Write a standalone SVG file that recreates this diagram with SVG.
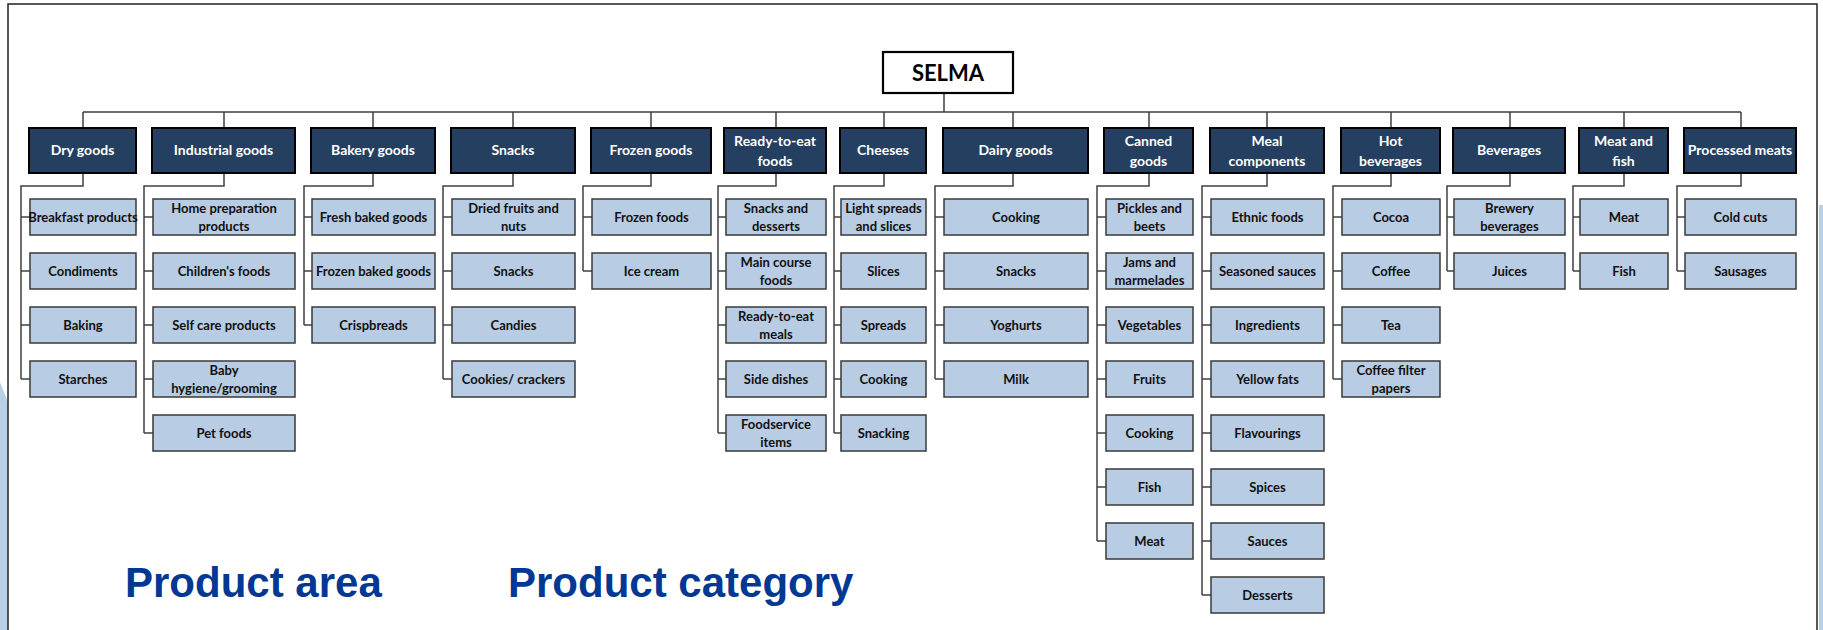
<svg xmlns="http://www.w3.org/2000/svg" width="1823" height="630" viewBox="0 0 1823 630">
<style>
.cat rect{fill:#243F60;stroke:#000;stroke-width:2}
.cat text{fill:#fff;font-family:Lato,"Liberation Sans",sans-serif;font-weight:700;font-size:14px;text-anchor:middle}
.sub rect{fill:#B8CCE4;stroke:#3A3A3A;stroke-width:1.5}
.sub text{fill:#111;font-family:Lato,"Liberation Sans",sans-serif;font-weight:700;font-size:13px;text-anchor:middle}
.root rect{fill:#fff;stroke:#000;stroke-width:2.2}
.root text{fill:#000;font-family:Lato,"Liberation Sans",sans-serif;font-weight:700;font-size:22px;text-anchor:middle}
#connectors path{fill:none;stroke:#404040;stroke-width:1.5}
.lbl{fill:#003893;font-family:"Liberation Sans",Arial,sans-serif;font-weight:700;font-size:42px}
</style>
<rect width="1823" height="630" fill="#fff"/>
<polygon points="0,382 8,402 8,630 0,630" fill="#B8D0E8"/>
<rect x="1819" y="205" width="4" height="425" fill="#B8D0E8"/>
<path d="M8,630 V4 H1817 V630" fill="none" stroke="#222" stroke-width="1.5"/>

<g id="connectors">
<path d="M944,93V112 M83,112H1741 M83,112V128 M224,112V128 M373,112V128 M513,112V128 M651,112V128 M776,112V128 M884,112V128 M1013,112V128 M1149,112V128 M1267,112V128 M1391,112V128 M1510,112V128 M1624,112V128 M1741,112V128"/>
<path d="M83,173V186H21V379 M21,217H30 M21,271H30 M21,325H30 M21,379H30"/>
<path d="M224,173V186H144V433 M144,217H153 M144,271H153 M144,325H153 M144,379H153 M144,433H153"/>
<path d="M373,173V186H304V325 M304,217H312 M304,271H312 M304,325H312"/>
<path d="M513,173V186H443V379 M443,217H452 M443,271H452 M443,325H452 M443,379H452"/>
<path d="M651,173V186H583V271 M583,217H592 M583,271H592"/>
<path d="M776,173V186H718V433 M718,217H726 M718,271H726 M718,325H726 M718,379H726 M718,433H726"/>
<path d="M884,173V186H834V433 M834,217H841 M834,271H841 M834,325H841 M834,379H841 M834,433H841"/>
<path d="M1013,173V186H935V379 M935,217H944 M935,271H944 M935,325H944 M935,379H944"/>
<path d="M1149,173V186H1097V541 M1097,217H1106 M1097,271H1106 M1097,325H1106 M1097,379H1106 M1097,433H1106 M1097,487H1106 M1097,541H1106"/>
<path d="M1267,173V186H1202V595 M1202,217H1211 M1202,271H1211 M1202,325H1211 M1202,379H1211 M1202,433H1211 M1202,487H1211 M1202,541H1211 M1202,595H1211"/>
<path d="M1391,173V186H1333V379 M1333,217H1342 M1333,271H1342 M1333,325H1342 M1333,379H1342"/>
<path d="M1510,173V186H1447V271 M1447,217H1454 M1447,271H1454"/>
<path d="M1624,173V186H1573V271 M1573,217H1580 M1573,271H1580"/>
<path d="M1741,173V186H1677V271 M1677,217H1685 M1677,271H1685"/>
</g>

<g id="selma" class="root"><rect x="883" y="52" width="130" height="41"/><text x="948" y="81">SELMA</text></g>

<g id="cat-dry-goods" class="cat"><rect x="29" y="128" width="107" height="45"/><text x="82.5" y="155">Dry goods</text></g>
<g id="cat-industrial-goods" class="cat"><rect x="152" y="128" width="143" height="45"/><text x="223.5" y="155">Industrial goods</text></g>
<g id="cat-bakery-goods" class="cat"><rect x="311" y="128" width="124" height="45"/><text x="373" y="155">Bakery goods</text></g>
<g id="cat-snacks" class="cat"><rect x="451" y="128" width="124" height="45"/><text x="513" y="155">Snacks</text></g>
<g id="cat-frozen-goods" class="cat"><rect x="591" y="128" width="120" height="45"/><text x="651" y="155">Frozen goods</text></g>
<g id="cat-ready-to-eat" class="cat"><rect x="724" y="128" width="102" height="45"/><text x="775" y="146">Ready-to-eat</text><text x="775" y="166">foods</text></g>
<g id="cat-cheeses" class="cat"><rect x="840" y="128" width="86" height="45"/><text x="883" y="155">Cheeses</text></g>
<g id="cat-dairy-goods" class="cat"><rect x="943" y="128" width="145" height="45"/><text x="1015.5" y="155">Dairy goods</text></g>
<g id="cat-canned-goods" class="cat"><rect x="1104" y="128" width="89" height="45"/><text x="1148.5" y="146">Canned</text><text x="1148.5" y="166">goods</text></g>
<g id="cat-meal-components" class="cat"><rect x="1210" y="128" width="114" height="45"/><text x="1267" y="146">Meal</text><text x="1267" y="166">components</text></g>
<g id="cat-hot-beverages" class="cat"><rect x="1341" y="128" width="99" height="45"/><text x="1390.5" y="146">Hot</text><text x="1390.5" y="166">beverages</text></g>
<g id="cat-beverages" class="cat"><rect x="1453" y="128" width="112" height="45"/><text x="1509" y="155">Beverages</text></g>
<g id="cat-meat-and-fish" class="cat"><rect x="1579" y="128" width="89" height="45"/><text x="1623.5" y="146">Meat and</text><text x="1623.5" y="166">fish</text></g>
<g id="cat-processed-meats" class="cat"><rect x="1684" y="128" width="112" height="45"/><text x="1740" y="155">Processed meats</text></g>

<!-- Dry goods -->
<g id="dry-1" class="sub"><rect x="30" y="199" width="106" height="36"/><text x="83" y="222">Breakfast products</text></g>
<g id="dry-2" class="sub"><rect x="30" y="253" width="106" height="36"/><text x="83" y="276">Condiments</text></g>
<g id="dry-3" class="sub"><rect x="30" y="307" width="106" height="36"/><text x="83" y="330">Baking</text></g>
<g id="dry-4" class="sub"><rect x="30" y="361" width="106" height="36"/><text x="83" y="384">Starches</text></g>
<!-- Industrial -->
<g id="ind-1" class="sub"><rect x="153" y="199" width="142" height="36"/><text x="224" y="213">Home preparation</text><text x="224" y="231">products</text></g>
<g id="ind-2" class="sub"><rect x="153" y="253" width="142" height="36"/><text x="224" y="276">Children's foods</text></g>
<g id="ind-3" class="sub"><rect x="153" y="307" width="142" height="36"/><text x="224" y="330">Self care products</text></g>
<g id="ind-4" class="sub"><rect x="153" y="361" width="142" height="36"/><text x="224" y="375">Baby</text><text x="224" y="393">hygiene/grooming</text></g>
<g id="ind-5" class="sub"><rect x="153" y="415" width="142" height="36"/><text x="224" y="438">Pet foods</text></g>
<!-- Bakery -->
<g id="bak-1" class="sub"><rect x="312" y="199" width="123" height="36"/><text x="373.5" y="222">Fresh baked goods</text></g>
<g id="bak-2" class="sub"><rect x="312" y="253" width="123" height="36"/><text x="373.5" y="276">Frozen baked goods</text></g>
<g id="bak-3" class="sub"><rect x="312" y="307" width="123" height="36"/><text x="373.5" y="330">Crispbreads</text></g>
<!-- Snacks -->
<g id="sna-1" class="sub"><rect x="452" y="199" width="123" height="36"/><text x="513.5" y="213">Dried fruits and</text><text x="513.5" y="231">nuts</text></g>
<g id="sna-2" class="sub"><rect x="452" y="253" width="123" height="36"/><text x="513.5" y="276">Snacks</text></g>
<g id="sna-3" class="sub"><rect x="452" y="307" width="123" height="36"/><text x="513.5" y="330">Candies</text></g>
<g id="sna-4" class="sub"><rect x="452" y="361" width="123" height="36"/><text x="513.5" y="384">Cookies/ crackers</text></g>
<!-- Frozen -->
<g id="fro-1" class="sub"><rect x="592" y="199" width="119" height="36"/><text x="651.5" y="222">Frozen foods</text></g>
<g id="fro-2" class="sub"><rect x="592" y="253" width="119" height="36"/><text x="651.5" y="276">Ice cream</text></g>
<!-- Ready-to-eat -->
<g id="rte-1" class="sub"><rect x="726" y="199" width="100" height="36"/><text x="776" y="213">Snacks and</text><text x="776" y="231">desserts</text></g>
<g id="rte-2" class="sub"><rect x="726" y="253" width="100" height="36"/><text x="776" y="267">Main course</text><text x="776" y="285">foods</text></g>
<g id="rte-3" class="sub"><rect x="726" y="307" width="100" height="36"/><text x="776" y="321">Ready-to-eat</text><text x="776" y="339">meals</text></g>
<g id="rte-4" class="sub"><rect x="726" y="361" width="100" height="36"/><text x="776" y="384">Side dishes</text></g>
<g id="rte-5" class="sub"><rect x="726" y="415" width="100" height="36"/><text x="776" y="429">Foodservice</text><text x="776" y="447">items</text></g>
<!-- Cheeses -->
<g id="che-1" class="sub"><rect x="841" y="199" width="85" height="36"/><text x="883.5" y="213">Light spreads</text><text x="883.5" y="231">and slices</text></g>
<g id="che-2" class="sub"><rect x="841" y="253" width="85" height="36"/><text x="883.5" y="276">Slices</text></g>
<g id="che-3" class="sub"><rect x="841" y="307" width="85" height="36"/><text x="883.5" y="330">Spreads</text></g>
<g id="che-4" class="sub"><rect x="841" y="361" width="85" height="36"/><text x="883.5" y="384">Cooking</text></g>
<g id="che-5" class="sub"><rect x="841" y="415" width="85" height="36"/><text x="883.5" y="438">Snacking</text></g>
<!-- Dairy -->
<g id="dai-1" class="sub"><rect x="944" y="199" width="144" height="36"/><text x="1016" y="222">Cooking</text></g>
<g id="dai-2" class="sub"><rect x="944" y="253" width="144" height="36"/><text x="1016" y="276">Snacks</text></g>
<g id="dai-3" class="sub"><rect x="944" y="307" width="144" height="36"/><text x="1016" y="330">Yoghurts</text></g>
<g id="dai-4" class="sub"><rect x="944" y="361" width="144" height="36"/><text x="1016" y="384">Milk</text></g>
<!-- Canned -->
<g id="can-1" class="sub"><rect x="1106" y="199" width="87" height="36"/><text x="1149.5" y="213">Pickles and</text><text x="1149.5" y="231">beets</text></g>
<g id="can-2" class="sub"><rect x="1106" y="253" width="87" height="36"/><text x="1149.5" y="267">Jams and</text><text x="1149.5" y="285">marmelades</text></g>
<g id="can-3" class="sub"><rect x="1106" y="307" width="87" height="36"/><text x="1149.5" y="330">Vegetables</text></g>
<g id="can-4" class="sub"><rect x="1106" y="361" width="87" height="36"/><text x="1149.5" y="384">Fruits</text></g>
<g id="can-5" class="sub"><rect x="1106" y="415" width="87" height="36"/><text x="1149.5" y="438">Cooking</text></g>
<g id="can-6" class="sub"><rect x="1106" y="469" width="87" height="36"/><text x="1149.5" y="492">Fish</text></g>
<g id="can-7" class="sub"><rect x="1106" y="523" width="87" height="36"/><text x="1149.5" y="546">Meat</text></g>
<!-- Meal components -->
<g id="mea-1" class="sub"><rect x="1211" y="199" width="113" height="36"/><text x="1267.5" y="222">Ethnic foods</text></g>
<g id="mea-2" class="sub"><rect x="1211" y="253" width="113" height="36"/><text x="1267.5" y="276">Seasoned sauces</text></g>
<g id="mea-3" class="sub"><rect x="1211" y="307" width="113" height="36"/><text x="1267.5" y="330">Ingredients</text></g>
<g id="mea-4" class="sub"><rect x="1211" y="361" width="113" height="36"/><text x="1267.5" y="384">Yellow fats</text></g>
<g id="mea-5" class="sub"><rect x="1211" y="415" width="113" height="36"/><text x="1267.5" y="438">Flavourings</text></g>
<g id="mea-6" class="sub"><rect x="1211" y="469" width="113" height="36"/><text x="1267.5" y="492">Spices</text></g>
<g id="mea-7" class="sub"><rect x="1211" y="523" width="113" height="36"/><text x="1267.5" y="546">Sauces</text></g>
<g id="mea-8" class="sub"><rect x="1211" y="577" width="113" height="36"/><text x="1267.5" y="600">Desserts</text></g>
<!-- Hot beverages -->
<g id="hot-1" class="sub"><rect x="1342" y="199" width="98" height="36"/><text x="1391" y="222">Cocoa</text></g>
<g id="hot-2" class="sub"><rect x="1342" y="253" width="98" height="36"/><text x="1391" y="276">Coffee</text></g>
<g id="hot-3" class="sub"><rect x="1342" y="307" width="98" height="36"/><text x="1391" y="330">Tea</text></g>
<g id="hot-4" class="sub"><rect x="1342" y="361" width="98" height="36"/><text x="1391" y="375">Coffee filter</text><text x="1391" y="393">papers</text></g>
<!-- Beverages -->
<g id="bev-1" class="sub"><rect x="1454" y="199" width="111" height="36"/><text x="1509.5" y="213">Brewery</text><text x="1509.5" y="231">beverages</text></g>
<g id="bev-2" class="sub"><rect x="1454" y="253" width="111" height="36"/><text x="1509.5" y="276">Juices</text></g>
<!-- Meat and fish -->
<g id="maf-1" class="sub"><rect x="1580" y="199" width="88" height="36"/><text x="1624" y="222">Meat</text></g>
<g id="maf-2" class="sub"><rect x="1580" y="253" width="88" height="36"/><text x="1624" y="276">Fish</text></g>
<!-- Processed meats -->
<g id="pro-1" class="sub"><rect x="1685" y="199" width="111" height="36"/><text x="1740.5" y="222">Cold cuts</text></g>
<g id="pro-2" class="sub"><rect x="1685" y="253" width="111" height="36"/><text x="1740.5" y="276">Sausages</text></g>

<text class="lbl" x="125" y="597">Product area</text>
<text class="lbl" x="508" y="597">Product category</text>
</svg>
